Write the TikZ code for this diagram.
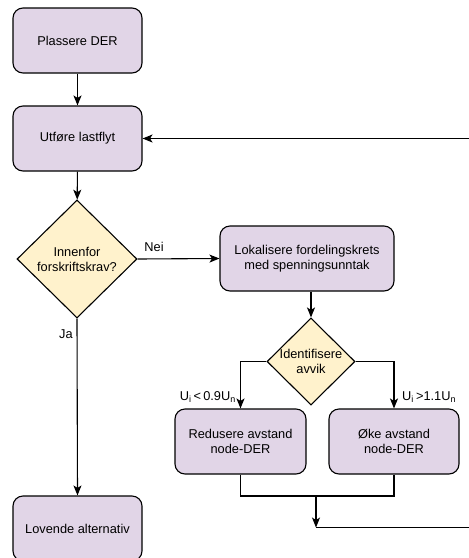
\documentclass[tikz,border=0pt]{standalone}
\usepackage{fontspec}
\setmainfont{Liberation Sans}
\usetikzlibrary{arrows.meta,shapes.geometric}
\definecolor{boxfill}{HTML}{E1D5E7}
\definecolor{diafill}{HTML}{FFF2CC}
\tikzset{
  procbox/.style={draw=black, fill=boxfill, rounded corners=10pt, line width=1.1pt,
    minimum height=65pt, align=center, font=\fontsize{12.8}{15}\selectfont, inner sep=2pt},
  decbox/.style={draw=black, fill=diafill, diamond, line width=1.1pt, aspect=1,
    minimum width=120pt, minimum height=118pt, inner sep=0pt, align=center,
    font=\fontsize{12.8}{15}\selectfont},
  link/.style={line width=1.1pt, draw=black},
  arr/.style={link, -{Stealth[length=10pt,width=8pt,inset=2.5pt]}},
  lbl/.style={font=\fontsize{12.8}{15}\selectfont, inner sep=0pt}
}
\begin{document}
\begin{tikzpicture}[x=1pt,y=-1pt]
\useasboundingbox (0,0) rectangle (469,558);
\clip (0,0) rectangle (469,558);
\node[procbox, minimum width=129pt] (pla) at (77.5,40.5) {Plassere DER};
\node[procbox, minimum width=129pt] (utf) at (77.5,138.5) {Utføre lastflyt};
\node[decbox] (d1) at (77,259) {Innenfor\\forskriftskrav?};
\node[procbox, minimum width=129pt] (lov) at (77.5,528.5) {Lovende alternativ};
\node[procbox, minimum width=174pt] (lok) at (307,258.5) {Lokalisere fordelingskrets\\med spenningsunntak};
\node[decbox, minimum width=88pt, minimum height=87pt] (d2) at (311,361.5) {Identifisere\\avvik};
\node[procbox, minimum width=131pt] (red) at (240.5,441.5) {Redusere avstand\\node-DER};
\node[procbox, minimum width=130pt] (oke) at (394,441.5) {Øke avstand\\node-DER};

\coordinate (jl) at (240.5,496);
\coordinate (jr) at (394,496);
\coordinate (j) at (316,496);
\coordinate (c) at (316,527.5);
\coordinate (r1) at (480,527.5);
\coordinate (r2) at (480,138.5);

\draw[arr] (pla) -- (utf);
\draw[arr] (utf) -- (d1);
\draw[arr] (d1.east) -- (lok.west);
\draw[arr] (d1.south) -- (lov.north);
\draw[arr] (lok.south -| d2.north) -- (d2.north);
\draw[arr] (d2.west) -| (red.north);
\draw[arr] (d2.east) -| (oke.north);
\draw[link] (red.south) -- (jl) -- (jr) -- (oke.south);
\draw[arr] (j) -- (c);
\draw[arr] (c) -- (r1) -- (r2) -- (utf.east);

\node[lbl] (nei) at (154,247) {Nei};
\node[lbl] (ja) at (66,334) {Ja};
\node[lbl, anchor=east] (ul) at (236,397) {U\textsubscript{i}\,<\,0.9U\textsubscript{n}};
\node[lbl, anchor=west] (ur) at (402,397) {U\textsubscript{i}\,>1.1U\textsubscript{n}};
\end{tikzpicture}
\end{document}
